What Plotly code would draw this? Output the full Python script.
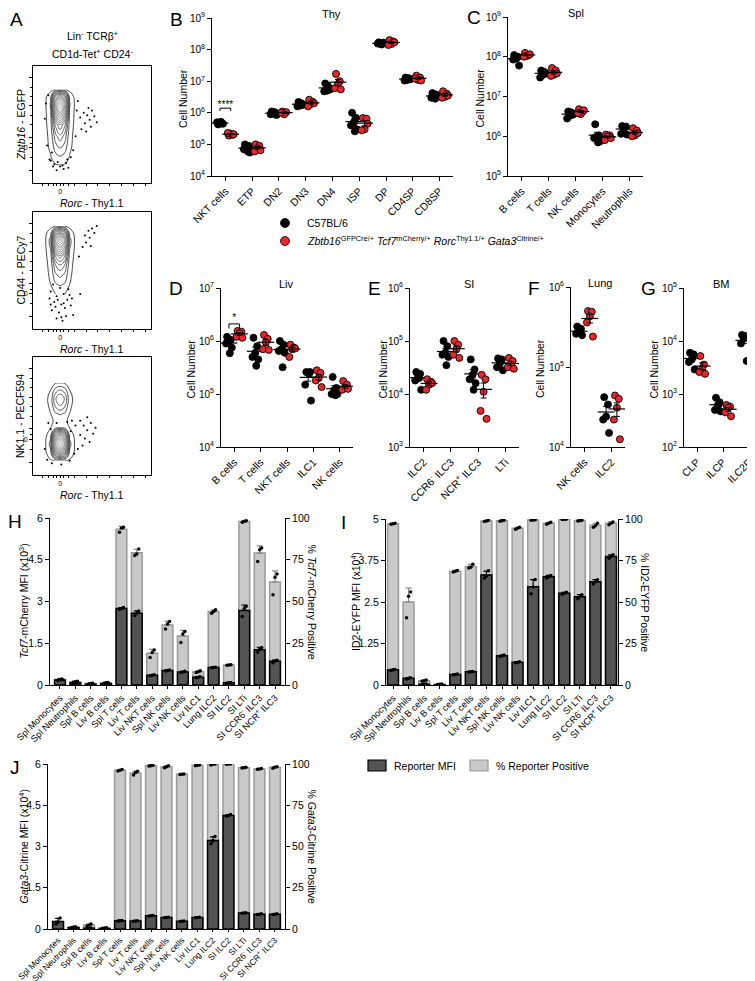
import plotly.graph_objects as go
import numpy as np

W, H = 755, 981
FONT = "Liberation Sans, Arial, sans-serif"

# ------------------------------------------------------------------ DATA
# Panel A: flow contour densities (grid values) and outlier events
a_xs = [1.0, 1.5, 1.9, 2.3, 2.7, 3.1, 3.6]
a1_ys = [1.5, 2.2, 3.0, 4.0, 5.0, 6.0, 6.8, 7.4, 8.0]
a1_z = [[0, 0, 0.5, 0.8, 0.5, 0, 0],
        [0, 0.8, 3, 4, 3, 0.8, 0],
        [0, 1.5, 6, 8, 6, 1.5, 0],
        [0, 2, 10, 14, 10, 2, 0],
        [0, 3, 16, 22, 16, 3, 0],
        [0, 4, 30, 42, 30, 4, 0],
        [0, 5, 40, 55, 40, 5, 0],
        [0, 3, 25, 35, 25, 3, 0],
        [0, 0, 1, 2, 1, 0, 0]]
a1_dx = [4.0, 4.3, 4.6, 4.8, 5.0, 4.4, 4.9, 5.2, 4.1, 4.7, 5.4, 4.5, 1.4, 1.8, 2.3, 2.8, 3.2, 1.6, 2.6, 3.4, 1.2, 2.0, 1.0, 1.1, 3.8, 3.6, 1.3, 3.7,
         1.5, 2.1, 2.5, 2.9, 3.0, 1.7]
a1_dy = [5.6, 6.0, 5.8, 5.4, 6.2, 5.1, 4.8, 5.7, 4.6, 6.4, 5.2, 4.4, 2.0, 1.6, 1.4, 1.7, 2.2, 2.6, 1.2, 2.8, 3.2, 1.1, 5.5, 6.8, 7.0, 4.0, 7.5, 6.2,
         1.9, 1.8, 1.5, 2.0, 1.3, 1.4]

a2_ys = [3.0, 3.8, 4.6, 5.4, 6.2, 7.0, 7.6, 8.2, 8.8]
a2_z = [[0, 0.5, 1, 1.5, 1, 0.5, 0],
        [0, 1, 4, 5, 4, 1, 0],
        [0, 1.5, 7, 9, 7, 1.5, 0],
        [0, 2, 11, 14, 11, 2, 0],
        [0, 3, 18, 24, 18, 3, 0],
        [0, 5, 32, 42, 32, 5, 0],
        [0, 6, 42, 55, 42, 6, 0],
        [0, 3, 22, 30, 22, 3, 0],
        [0, 0, 1, 2, 1, 0, 0]]
a2_dx = [4.4, 4.7, 5.0, 5.2, 4.8, 4.5, 5.4, 4.2, 4.9, 3.9, 1.5, 2.0, 2.6, 3.0, 1.8, 2.4, 2.9, 1.6, 2.2, 2.7, 3.2, 2.0, 2.5, 1.9, 3.4, 2.3, 3.1, 1.4, 2.8, 4.0,
         1.7, 2.1, 2.6, 3.3, 1.5, 2.4]
a2_dy = [8.0, 8.4, 8.6, 8.2, 7.8, 7.4, 8.8, 7.0, 7.1, 6.2, 3.2, 2.8, 3.0, 3.4, 2.3, 2.1, 2.5, 1.6, 1.4, 1.8, 2.0, 0.9, 0.7, 1.9, 1.2, 3.5, 2.9, 2.6, 1.1, 3.0,
         3.8, 2.5, 2.2, 2.6, 2.1, 1.0]

a3_ys = [1.2, 1.8, 2.6, 3.4, 4.0, 4.6, 5.2, 5.8, 6.5, 7.2, 7.8]
a3_z = [[0, 0.5, 1, 1.5, 1, 0.5, 0],
        [0, 3, 20, 30, 20, 3, 0],
        [0, 6, 45, 60, 45, 6, 0],
        [0, 3, 25, 35, 25, 3, 0],
        [0, 1, 3, 4, 3, 1, 0],
        [0, 0.5, 1.5, 2, 1.5, 0.5, 0],
        [0, 1, 4, 5, 4, 1, 0],
        [0, 1.5, 8, 11, 8, 1.5, 0],
        [0, 2, 11, 15, 11, 2, 0],
        [0, 1, 6, 8, 6, 1, 0],
        [0, 0, 0.5, 1, 0.5, 0, 0]]
a3_dx = [4.0, 4.3, 4.6, 4.9, 5.1, 4.4, 4.8, 4.2, 5.3, 4.0, 4.6, 3.8, 1.2, 1.6, 2.4, 3.1, 3.5, 1.0, 3.6, 3.3, 1.3,
         1.5, 2.0, 2.9, 3.2]
a3_dy = [4.6, 4.2, 3.8, 4.4, 3.5, 3.1, 2.8, 2.5, 4.0, 3.4, 4.9, 2.2, 1.3, 1.0, 0.9, 1.2, 1.8, 2.2, 4.2, 4.6, 4.4,
         3.9, 4.4, 4.5, 3.7]

# Panel B: thymus
thy_cats = ["NKT cells", "ETP", "DN2", "DN3", "DN4", "ISP", "DP", "CD4SP", "CD8SP"]
thy_wt = [[4.3e5, 4.6e5, 4.8e5, 5.0e5, 4.5e5, 5.2e5],
          [1.0e5, 9e4, 8e4, 7e4, 5.5e4, 6e4],
          [1.1e6, 1.0e6, 9.5e5, 9e5, 8.5e5, 1.05e6],
          [2.2e6, 1.9e6, 1.7e6, 1.6e6, 1.8e6, 2.0e6],
          [8.5e6, 6e6, 5e6, 4.8e6, 5.5e6, 7e6],
          [1.0e6, 7e5, 5e5, 4e5, 3e5, 2.6e5],
          [1.7e8, 1.6e8, 1.5e8, 1.55e8, 1.65e8, 1.45e8],
          [1.3e7, 1.2e7, 1.1e7, 1.05e7, 1.15e7, 1.25e7],
          [4.2e6, 3.8e6, 3.2e6, 3.0e6, 3.5e6, 2.8e6]]
thy_rep = [[1.9e5, 2.0e5, 2.2e5, 2.3e5, 2.1e5],
           [1.0e5, 9e4, 7.5e4, 6e4, 6.5e4],
           [1.1e6, 1.05e6, 9e5, 1.0e6],
           [2.6e6, 2.2e6, 1.9e6, 1.6e6, 2.0e6],
           [1.7e7, 1.0e7, 8e6, 6e6, 5.5e6],
           [6.8e5, 6.5e5, 3e5, 2.8e5, 4.5e5],
           [2.0e8, 1.8e8, 1.5e8, 1.4e8, 1.7e8],
           [1.5e7, 1.3e7, 1.1e7, 1.2e7, 1.05e7],
           [4.8e6, 4.0e6, 3.2e6, 3.0e6, 3.5e6]]

# Panel C: spleen
spl_cats = ["B cells", "T cells", "NK cells", "Monocytes", "Neutrophils"]
spl_wt = [[1.1e8, 1.0e8, 9e7, 8.5e7, 6e7, 9.5e7],
          [4.5e7, 4e7, 3.5e7, 3e7, 3.8e7, 4.2e7],
          [4.2e6, 3.8e6, 3.3e6, 2.8e6, 3.5e6, 4.0e6],
          [2.0e6, 1.05e6, 1.0e6, 9e5, 7.5e5, 7e5],
          [1.8e6, 1.75e6, 1.6e6, 1.15e6, 1.1e6, 1.7e6]]
spl_rep = [[1.25e8, 1.1e8, 1.05e8, 1.0e8, 1.15e8],
           [5.2e7, 4.5e7, 3.5e7, 3.3e7, 3.8e7],
           [4.8e6, 4.2e6, 3.6e6, 3.8e6, 4.5e6],
           [1.1e6, 1.05e6, 1.0e6, 8e5, 9e5],
           [1.6e6, 1.4e6, 1.05e6, 1.0e6, 1.2e6]]

# Panel D: liver
liv_cats = ["B cells", "T cells", "NKT cells", "ILC1", "NK cells"]
liv_wt = [[1.2e6, 1.05e6, 1.0e6, 9e5, 7.5e5, 5.9e5],
          [1.15e6, 8e5, 6e5, 5e5, 4.5e5, 3.4e5],
          [1.0e6, 8.5e5, 7e5, 6.5e5, 6e5, 3.2e5],
          [2.6e5, 2.6e5, 2.5e5, 1.5e5, 7.5e4, 2.4e5],
          [2.1e5, 1.3e5, 1.2e5, 1.0e5, 1.0e5, 9.5e4]]
liv_rep = [[1.55e6, 1.5e6, 1.4e6, 1.2e6, 1.15e6],
           [1.3e6, 1.1e6, 9.5e5, 7e5, 6.8e5],
           [8.5e5, 7.5e5, 7e5, 5e5, 7.2e5],
           [2.8e5, 2.5e5, 2.0e5, 1.8e5, 1.35e5],
           [1.75e5, 1.5e5, 1.3e5, 1.2e5, 1.25e5]]

# Panel E: small intestine
si_cats = ["ILC2", "CCR6<sup>-</sup> ILC3", "NCR<sup>+</sup> ILC3", "LTi"]
si_wt = [[2.6e4, 2.4e4, 2.2e4, 1.8e4, 1.2e4, 2.0e4],
         [1.0e5, 8e4, 6e4, 5.5e4, 5e4, 3.5e4],
         [4.5e4, 2.9e4, 2.3e4, 1.9e4, 1.6e4, 1.2e4],
         [4.7e4, 4.5e4, 3.8e4, 3.2e4, 2.8e4, 4.2e4]]
si_rep = [[1.9e4, 1.7e4, 1.5e4, 1.2e4, 1.6e4],
          [1.0e5, 8.5e4, 7e4, 5.5e4, 4.8e4],
          [2.3e4, 1.9e4, 1.1e4, 4.8e3, 3.4e3],
          [4.8e4, 4.2e4, 3.6e4, 3.2e4, 3.0e4]]

# Panel F: lung
lung_cats = ["NK cells", "ILC2"]
lung_wt = [[3.2e5, 3.0e5, 2.8e5, 2.6e5, 2.5e5, 2.7e5],
           [4.2e4, 3.4e4, 2.4e4, 2.2e4, 1.5e4]]
lung_rep = [[5.0e5, 4.9e5, 4.3e5, 3.6e5, 2.4e5],
            [4.4e4, 4.0e4, 3.1e4, 2.2e4, 1.25e4]]

# Panel G: bone marrow
bm_cats = ["CLP", "ILCP", "ILC2P"]
bm_wt = [[6.0e3, 5.6e3, 4.5e3, 4.0e3, 2.9e3, 5.0e3],
         [8.5e2, 7e2, 6e2, 5e2, 4.7e2, 6.5e2],
         [1.3e4, 1.2e4, 1.1e4, 9e3, 4.2e3, 1.25e4]]
bm_rep = [[5.2e3, 3.6e3, 3.0e3, 2.6e3, 2.4e3],
          [6.2e2, 5.8e2, 5.5e2, 4.5e2, 3.8e2],
          [1.7e4, 1.45e4, 1.3e4, 1.2e4, 1.2e4]]

# Panels H-J: reporter bars
rep_cats = ["Spl Monocytes", "Spl Neutrophils", "Spl B cells", "Liv B cells", "Spl T cells",
            "Liv T cells", "Liv NKT cells", "Spl NK cells", "Liv NK cells", "Liv ILC1",
            "Lung ILC2", "SI ILC2", "SI LTi", "SI CCR6<sup>-</sup> ILC3", "SI NCR<sup>+</sup> ILC3"]
tcf7_mfi = [[0.16, 0.20, 0.19], [0.06, 0.09, 0.10], [0.02, 0.03, 0.04], [0.04, 0.06, 0.06],
            [2.72, 2.75, 2.78], [2.50, 2.58, 2.66], [0.33, 0.35, 0.37], [0.50, 0.52, 0.54],
            [0.45, 0.47, 0.49], [0.26, 0.28, 0.30], [0.62, 0.63, 0.64], [0.07, 0.08, 0.09],
            [2.46, 2.75, 2.83], [1.18, 1.28, 1.35], [0.80, 0.86, 0.89]]
tcf7_pos = [[2.8, 3.3, 3.6], [1.6, 2.0, 2.3], [0.6, 0.9, 1.0], [1.0, 1.3, 1.5],
            [91.5, 94.0, 94.5], [77.5, 78.5, 81.5], [16.5, 19.5, 21.0], [33.5, 36.5, 38.0],
            [25.5, 30.5, 32.0], [7.5, 8.0, 8.5], [43.0, 44.0, 45.0], [11.8, 12.0, 12.2],
            [97.5, 98.0, 98.3], [74.0, 81.0, 82.0], [54.0, 64.5, 66.5]]
id2_mfi = [[0.44, 0.46, 0.47], [0.18, 0.20, 0.22], [0.01, 0.02, 0.03], [0.00, 0.01, 0.01],
           [0.31, 0.32, 0.33], [0.39, 0.40, 0.41], [3.22, 3.28, 3.44], [0.86, 0.88, 0.90],
           [0.67, 0.68, 0.70], [2.75, 2.95, 3.18], [3.22, 3.26, 3.30], [2.73, 2.76, 2.79],
           [2.60, 2.66, 2.72], [3.04, 3.11, 3.17], [3.82, 3.87, 3.92]]
id2_pos = [[96.8, 97.2, 97.5], [40.5, 53.5, 56.0], [2.2, 2.6, 3.0], [0.3, 0.5, 0.6],
           [68.0, 68.5, 69.0], [70.5, 71.0, 72.8], [98.5, 98.8, 99.2], [98.7, 99.0, 99.3],
           [93.9, 94.4, 95.0], [99.2, 99.4, 99.6], [96.8, 97.4, 98.0], [99.7, 99.8, 99.9],
           [98.8, 99.0, 99.3], [95.0, 96.0, 97.5], [96.5, 97.4, 98.2]]
gata3_mfi = [[0.18, 0.25, 0.40], [0.04, 0.06, 0.07], [0.02, 0.03, 0.04], [0.01, 0.02, 0.02],
             [0.29, 0.30, 0.31], [0.28, 0.29, 0.30], [0.47, 0.48, 0.49], [0.41, 0.42, 0.43],
             [0.27, 0.28, 0.29], [0.41, 0.42, 0.43], [3.10, 3.20, 3.36], [4.10, 4.13, 4.16],
             [0.57, 0.58, 0.59], [0.53, 0.54, 0.55], [0.53, 0.54, 0.55]]
gata3_pos = [[1.5, 2.0, 2.5], [0.8, 1.0, 1.2], [1.8, 2.4, 3.0], [0.4, 0.6, 0.8],
             [95.8, 96.2, 96.6], [93.4, 94.8, 95.6], [98.8, 99.0, 99.2], [97.8, 98.4, 98.9],
             [93.6, 93.8, 94.0], [99.0, 99.2, 99.4], [99.4, 99.8, 100.0], [99.9, 100.0, 100.0],
             [97.6, 97.8, 98.0], [96.8, 97.0, 97.2], [97.5, 98.0, 98.4]]

# ------------------------------------------------------------------ STYLE
JIT = [-0.07, 0.07, 0.0, -0.11, 0.11, 0.035]
BAR_JIT = [-0.13, 0.0, 0.13]
RED = "#e8262b"


def xd(a, b):
    return [a / W, b / W]


def yd(top, bottom):
    return [1 - bottom / H, 1 - top / H]


def px(x):
    return x / W


def py(y):
    return 1 - y / H


fig = go.Figure()
layout = dict(template="none", width=W, height=H, margin=dict(l=0, r=0, t=0, b=0, autoexpand=False),
              paper_bgcolor="white", plot_bgcolor="white", showlegend=False,
              font=dict(family=FONT, size=10.5, color="black"), barmode="overlay")
annotations = []
shapes = []


def ann(text, x, y, size=10.5, xanchor="center", yanchor="middle", angle=0):
    annotations.append(dict(text=text, x=px(x), y=py(y), xref="paper", yref="paper",
                            showarrow=False, xanchor=xanchor, yanchor=yanchor,
                            textangle=angle, font=dict(size=size, family=FONT, color="black")))


AX = dict(showline=True, linecolor="black", linewidth=1, ticks="outside", ticklen=4,
          tickcolor="black", tickwidth=1, showgrid=False, zeroline=False, automargin=False)

# ------------------------------------------------------------------ PANEL A
a_frames = [(58, 175), (204, 321), (349, 467)]
a_sets = [(a1_ys, a1_z, a1_dx, a1_dy), (a2_ys, a2_z, a2_dx, a2_dy), (a3_ys, a3_z, a3_dx, a3_dy)]
a_ylabels = ["<i>Zbtb16</i> - EGFP", "CD44 - PECy7", "NK1.1 - PECF594"]
for k, ((top, bot), (ys, z, dx, dy)) in enumerate(zip(a_frames, a_sets)):
    n = k + 1
    fig.add_trace(go.Scatter(x=dx, y=dy, mode="markers", xaxis=f"x{n}", yaxis=f"y{n}",
                             marker=dict(size=2, color="black")))
    fig.add_trace(go.Contour(x=a_xs, y=ys, z=z, xaxis=f"x{n}", yaxis=f"y{n}",
                             contours=dict(coloring="lines", start=1, end=60, size=3.5),
                             line=dict(width=0.8, smoothing=1.3), showscale=False,
                             colorscale=[[0, "#1a1a1a"], [0.45, "#6a6a6a"], [1, "#b5b5b5"]]))
    layout[f"xaxis{n}"] = dict(AX, domain=xd(25, 143), range=[0, 10], mirror=True, anchor=f"y{n}",
                               ticklen=2, tickvals=[2.3], ticktext=["0"], tickfont=dict(size=7, color="black"),
                               minor=dict(tickvals=[0.8, 1.3, 1.7, 2.0, 2.6, 3.0, 3.5, 4.5, 5.5, 6.5, 7.5, 8.5, 9.5],
                                          ticklen=2, ticks="outside", tickcolor="black"))
    layout[f"yaxis{n}"] = dict(AX, domain=yd(top, bot), range=[0, 10], mirror=True, anchor=f"x{n}",
                               ticklen=3, tickvals=[1.1, 3.0, 3.9, 6.6, 9.0], ticktext=["", "0", "", "", ""],
                               tickfont=dict(size=7, color="black"),
                               minor=dict(tickvals=[2.2, 3.4, 5.0, 5.8, 7.4, 8.2], ticklen=2,
                                          ticks="outside", tickcolor="black"))
    ann(a_ylabels[k], 12, (top + bot) / 2, size=10.5, angle=-90)
    ann("<i>Rorc</i> - Thy1.1", 84, bot + 20, size=10.5)
ann("Lin<sup>-</sup> TCRβ<sup>+</sup>", 84, 27, size=10.5)
ann("CD1d-Tet<sup>+</sup> CD24<sup>-</sup>", 84, 46, size=10.5)


# ------------------------------------------------------------------ DOT PANELS
def dot_panel(n, cats, wt, rep, dom_x, dom_y, log_range, title, title_x, ylab_x, letter, letter_x):
    xa, ya = f"x{n}", f"y{n}"
    for g, (vals_list, fill) in enumerate([(wt, "black"), (rep, RED)]):
        off = -0.2 if g == 0 else 0.2
        xs, ys_ = [], []
        for i, vals in enumerate(vals_list):
            for j, v in enumerate(vals):
                xs.append(i + off + JIT[j % len(JIT)])
                ys_.append(v)
        fig.add_trace(go.Scatter(x=xs, y=ys_, mode="markers", xaxis=xa, yaxis=ya,
                                 marker=dict(size=7, color=fill, line=dict(color="black", width=0.9))))
        means = [float(np.mean(v)) for v in vals_list]
        sems = [float(np.std(v, ddof=1) / np.sqrt(len(v))) for v in vals_list]
        fig.add_trace(go.Scatter(x=[i + off for i in range(len(cats))], y=means, mode="markers",
                                 xaxis=xa, yaxis=ya,
                                 marker=dict(symbol="line-ew", size=12, color="black",
                                             line=dict(color="black", width=1.2)),
                                 error_y=dict(type="data", array=sems, color="black",
                                              thickness=1, width=3)))
    lo, hi = log_range
    layout[f"xaxis{n}"] = dict(AX, domain=xd(*dom_x), range=[-0.5, len(cats) - 0.5], anchor=ya,
                               tickvals=list(range(len(cats))), ticktext=cats, tickangle=-45,
                               tickfont=dict(size=10.5, color="black"))
    layout[f"yaxis{n}"] = dict(AX, domain=yd(*dom_y), type="log", range=[lo, hi], anchor=xa,
                               tickvals=[10 ** e for e in range(lo, hi + 1)],
                               ticktext=[f"10<sup>{e}</sup>" for e in range(lo, hi + 1)],
                               tickfont=dict(size=10, color="black"))
    ann(title, title_x, dom_y[0] - 4, size=11)
    ann("Cell Number", ylab_x, (dom_y[0] + dom_y[1]) / 2 + 2, size=10.5, angle=-90)
    ann(letter, letter_x, dom_y[0] + 1, size=19)


dot_panel(4, thy_cats, thy_wt, thy_rep, (204, 445), (10, 168), (4, 9), "Thy", 323, 175, "B", 168)
dot_panel(5, spl_cats, spl_wt, spl_rep, (500, 635), (9, 168), (5, 9), "Spl", 568, 471, "C", 466)
dot_panel(6, liv_cats, liv_wt, liv_rep, (213, 345), (280, 439), (4, 7), "Liv", 278, 182, "D", 168)
dot_panel(7, si_cats, si_wt, si_rep, (402, 511), (280, 439), (3, 6), "SI", 461, 374, "E", 366)
dot_panel(8, lung_cats, lung_wt, lung_rep, (563, 617), (279, 439), (4, 6), "Lung", 592, 532, "F", 526)
dot_panel(9, bm_cats, bm_wt, bm_rep, (676, 754), (280, 439), (2, 5), "BM", 713, 645, "G", 640)


def sig(n, i, yv, label):
    fig.add_trace(go.Scatter(x=[i - 0.2, i - 0.2, i + 0.2, i + 0.2],
                             y=[yv * 0.82, yv, yv, yv * 0.82], mode="lines",
                             xaxis=f"x{n}", yaxis=f"y{n}", line=dict(color="black", width=1)))
    fig.add_trace(go.Scatter(x=[i], y=[yv * 1.25], mode="text", text=[label],
                             textfont=dict(size=10, color="black"), xaxis=f"x{n}", yaxis=f"y{n}"))


sig(4, 0, 1.4e6, "****")
sig(6, 0, 2.1e6, "*")

# legend for B-G
for cy, fill in [(215, "black"), (233, RED)]:
    shapes.append(dict(type="circle", xref="paper", yref="paper", x0=px(272.5), x1=px(281.5),
                       y0=py(cy + 4.5), y1=py(cy - 4.5), fillcolor=fill,
                       line=dict(color="black", width=0.8)))
ann("C57BL/6", 297, 215, size=10.5, xanchor="left")
ann("<i>Zbtb16</i><sup>GFPCre/+</sup> <i>Tcf7</i><sup>mCherry/+</sup> <i>Rorc</i><sup>Thy1.1/+</sup> "
    "<i>Gata3</i><sup>Citrine/+</sup>", 297, 233, size=10.5, xanchor="left")


# ------------------------------------------------------------------ BAR PANELS
def bar_panel(nb, mfi, pos, dom_x, dom_y, xr, mfi_max, mfi_ticks, ylab_l, ylab_r, xl, xr_lab, letter, lx,
              cat_size=9.2, cat_len=3):
    no = nb + 1
    xa = f"x{nb}"
    idx = list(range(len(rep_cats)))
    pm = [float(np.mean(v)) for v in pos]
    psd = [float(np.std(v, ddof=1)) for v in pos]
    mm = [float(np.mean(v)) for v in mfi]
    msd = [float(np.std(v, ddof=1)) for v in mfi]
    fig.add_trace(go.Bar(x=idx, y=pm, width=0.7, offset=-0.35, xaxis=xa, yaxis=f"y{nb}",
                         marker=dict(color="#c9c9c9", line=dict(color="#9a9a9a", width=1.5)),
                         error_y=dict(type="data", symmetric=False, array=psd, arrayminus=[0] * len(pm),
                                      color="#8a8a8a", thickness=1.2, width=3)))
    fig.add_trace(go.Scatter(x=[i + BAR_JIT[j] for i in idx for j in range(3)],
                             y=[v for vals in pos for v in vals], mode="markers", xaxis=xa,
                             yaxis=f"y{nb}", marker=dict(size=3.5, color="black")))
    fig.add_trace(go.Bar(x=idx, y=mm, width=0.7, offset=-0.35, xaxis=xa, yaxis=f"y{no}",
                         marker=dict(color="#545454", line=dict(color="black", width=1.5)),
                         error_y=dict(type="data", symmetric=False, array=msd, arrayminus=[0] * len(mm),
                                      color="black", thickness=1.2, width=3)))
    fig.add_trace(go.Scatter(x=[i + BAR_JIT[j] for i in idx for j in range(3)],
                             y=[v for vals in mfi for v in vals], mode="markers", xaxis=xa,
                             yaxis=f"y{no}", marker=dict(size=3.5, color="black")))
    layout[f"xaxis{nb}"] = dict(AX, domain=xd(*dom_x), range=xr, anchor=f"y{nb}",
                                tickvals=idx, ticktext=rep_cats, tickangle=-45, ticklen=cat_len,
                                tickfont=dict(size=cat_size, color="black"))
    layout[f"yaxis{nb}"] = dict(AX, domain=yd(*dom_y), range=[0, 100], side="right", anchor=xa,
                                tickvals=[0, 25, 50, 75, 100], tickfont=dict(size=10.5, color="black"))
    layout[f"yaxis{no}"] = dict(AX, domain=yd(*dom_y), range=[0, mfi_max], side="left", anchor=xa,
                                overlaying=f"y{nb}", tickvals=mfi_ticks, tickfont=dict(size=10.5, color="black"))
    cy = (dom_y[0] + dom_y[1]) / 2
    ann(ylab_l, xl, cy, size=10.5, angle=-90)
    ann(ylab_r, xr_lab, cy, size=10.5, angle=90)
    ann(letter, lx, dom_y[0] + 3, size=19)


bar_panel(10, tcf7_mfi, tcf7_pos, (42, 277), (510, 677), [-0.65, 14.65], 6, [0, 1.5, 3, 4.5, 6],
          "<i>Tcf7</i>-mCherry MFI (x10<sup>3</sup>)", "% <i>Tcf7</i>-mCherry Positive", 15, 304, "H", 7)
bar_panel(12, id2_mfi, id2_pos, (378, 610), (511, 677), [-0.45, 14.45], 5, [0, 1.25, 2.5, 3.75, 5],
          "ID2-EYFP MFI (x10<sup>4</sup>)", "% ID2-EYFP Positive", 347, 637, "I", 335)
bar_panel(14, gata3_mfi, gata3_pos, (40, 277), (756, 921), [-0.65, 14.65], 6, [0, 1.5, 3, 4.5, 6],
          "<i>Gata3</i>-Citrine MFI (x10<sup>4</sup>)", "% <i>Gata3</i>-Citrine Positive", 15, 304, "J", 7,
          cat_size=8.5, cat_len=2)

# legend for I/J
shapes.append(dict(type="rect", xref="paper", yref="paper", x0=px(360), x1=px(378), y0=py(763), y1=py(752),
                   fillcolor="#545454", line=dict(color="black", width=1.2)))
ann("Reporter MFI", 384, 757.5, size=10.5, xanchor="left")
shapes.append(dict(type="rect", xref="paper", yref="paper", x0=px(462), x1=px(480), y0=py(763), y1=py(752),
                   fillcolor="#c9c9c9", line=dict(color="#9a9a9a", width=1.2)))
ann("% Reporter Positive", 486, 757.5, size=10.5, xanchor="left")

ann("A", 8, 12, size=19)

layout["annotations"] = annotations
layout["shapes"] = shapes
fig.update_layout(**layout)
fig.write_html("out.html")
